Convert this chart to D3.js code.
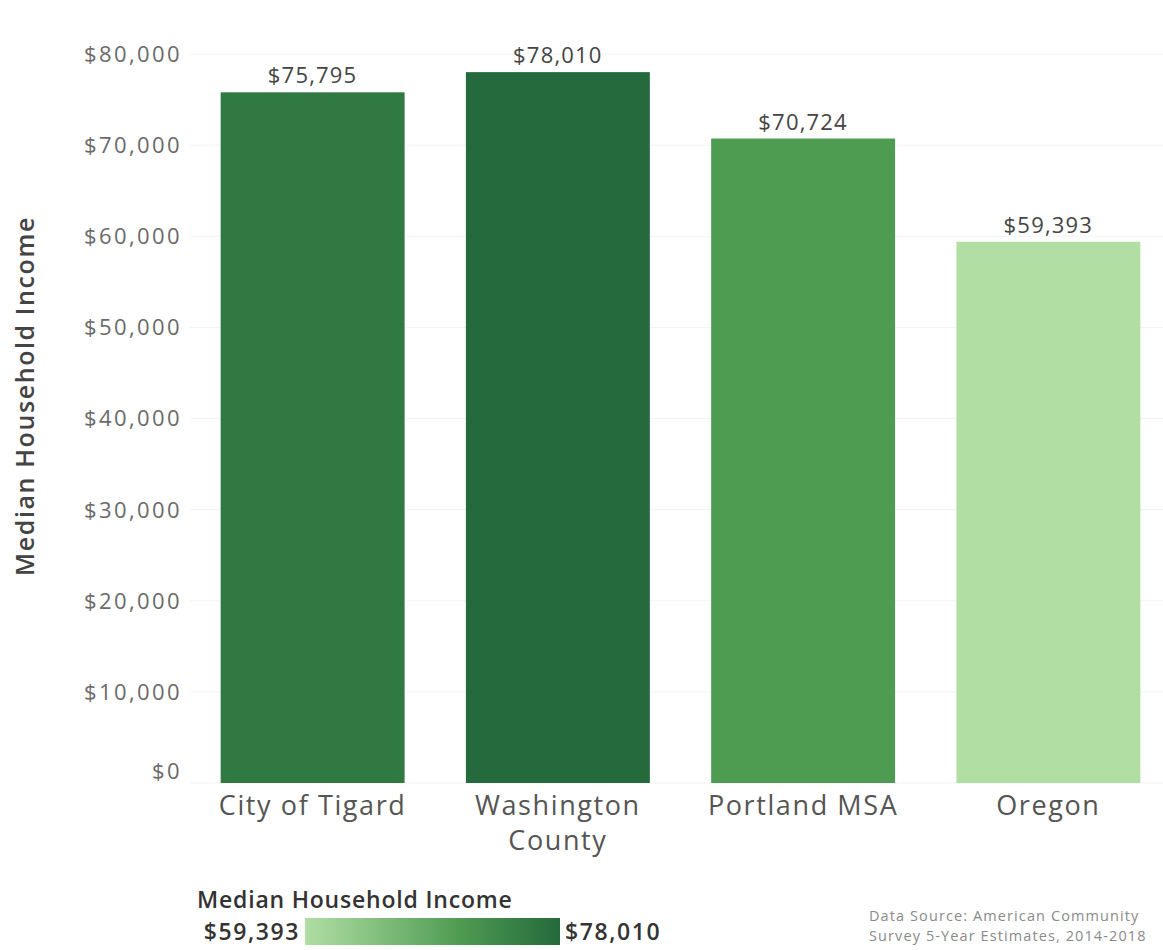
<!DOCTYPE html>
<html>
<head>
<meta charset="utf-8">
<script src="https://cdn.jsdelivr.net/npm/d3@7"></script>
<style>
  html, body { margin: 0; padding: 0; background: #ffffff; }
  svg { display: block; font-family: "Open Sans", "DejaVu Sans", sans-serif; }
</style>
</head>
<body>
<svg id="chart" width="1163" height="950"></svg>
<script>
// Median household income by geography (ACS 5-year, 2014-2018)
const categories = ["City of Tigard", "Washington County", "Portland MSA", "Oregon"];
const categoryLines = [["City of Tigard"], ["Washington", "County"], ["Portland MSA"], ["Oregon"]];
const incomes = [75795, 78010, 70724, 59393];
const yTicks = [0, 10000, 20000, 30000, 40000, 50000, 60000, 70000, 80000];
const colorStops = ["#b1dea3", "#4e9b52", "#246a3c"];

const svg = d3.select("#chart");
const fmt = d3.format("$,");

const lo = d3.min(incomes), hi = d3.max(incomes);
const color = d3.scaleLinear()
  .domain([lo, incomes[2], hi])
  .range(colorStops)
  .interpolate(d3.interpolateLab);

const x = d3.scaleBand()
  .domain(categories)
  .range([190, 1171])
  .paddingInner(0.25)
  .paddingOuter(0.125);

const y = d3.scaleLinear()
  .domain([0, 80000])
  .range([783, 54]);

// faint horizontal gridlines
svg.append("g")
  .selectAll("line")
  .data(yTicks)
  .join("line")
  .attr("x1", 190).attr("x2", 1163)
  .attr("y1", d => y(d)).attr("y2", d => y(d))
  .attr("stroke", "#f3f3f3")
  .attr("stroke-width", 1);

// y axis labels
const yAxis = d3.axisLeft(y).tickValues(yTicks).tickFormat(fmt).tickSize(0).tickPadding(0);
const gy = svg.append("g").attr("transform", "translate(182,0)").call(yAxis);
gy.select(".domain").remove();
gy.selectAll("text")
  .attr("fill", "#6a6a6a")
  .attr("font-size", 22)
  .attr("letter-spacing", 2.4)
  .attr("dy", d => d === 0 ? "-0.2em" : "0.34em")
  .attr("font-family", "'Open Sans', sans-serif");

// bars
svg.append("g")
  .selectAll("rect")
  .data(incomes)
  .join("rect")
  .attr("x", (d, i) => x(categories[i]))
  .attr("width", x.bandwidth())
  .attr("y", d => y(d))
  .attr("height", d => y(0) - y(d))
  .attr("fill", d => color(d));

// value labels above bars
svg.append("g")
  .selectAll("text")
  .data(incomes)
  .join("text")
  .attr("x", (d, i) => x(categories[i]) + x.bandwidth() / 2)
  .attr("y", d => y(d) - 9)
  .attr("text-anchor", "middle")
  .attr("fill", "#444")
  .attr("font-size", 22)
  .attr("letter-spacing", 1.2)
  .text(d => fmt(d));

// category labels
const xl = svg.append("g")
  .selectAll("text")
  .data(categories)
  .join("text")
  .attr("x", d => x(d) + x.bandwidth() / 2)
  .attr("y", 815)
  .attr("text-anchor", "middle")
  .attr("fill", "#555")
  .attr("font-size", 27)
  .attr("font-weight", 500)
  .attr("letter-spacing", 1.6);
xl.each(function(d, i) {
  d3.select(this).selectAll("tspan")
    .data(categoryLines[i])
    .join("tspan")
    .attr("x", x(d) + x.bandwidth() / 2)
    .attr("dy", (t, j) => j === 0 ? 0 : 35)
    .text(t => t);
});

// y axis title
svg.append("text")
  .attr("transform", "translate(34,396) rotate(-90)")
  .attr("text-anchor", "middle")
  .attr("fill", "#444")
  .attr("font-size", 25)
  .attr("font-weight", 600)
  .attr("letter-spacing", 1.6)
  .text("Median Household Income");

// colour legend
const defs = svg.append("defs");
const grad = defs.append("linearGradient").attr("id", "incomeGrad");
grad.selectAll("stop")
  .data(color.domain())
  .join("stop")
  .attr("offset", d => (d - lo) / (hi - lo))
  .attr("stop-color", d => color(d));

const legend = svg.append("g");
legend.append("text")
  .attr("x", 197).attr("y", 908)
  .attr("fill", "#333")
  .attr("font-size", 23)
  .attr("font-weight", 600)
  .attr("letter-spacing", 0.8)
  .text("Median Household Income");
legend.append("rect")
  .attr("x", 305).attr("y", 918)
  .attr("width", 255).attr("height", 27)
  .attr("fill", "url(#incomeGrad)");
legend.append("text")
  .attr("x", 300).attr("y", 940)
  .attr("text-anchor", "end")
  .attr("fill", "#333")
  .attr("font-size", 23)
  .attr("font-weight", 600)
  .attr("letter-spacing", 1.6)
  .text(fmt(lo));
legend.append("text")
  .attr("x", 565).attr("y", 940)
  .attr("fill", "#333")
  .attr("font-size", 23)
  .attr("font-weight", 600)
  .attr("letter-spacing", 1.6)
  .text(fmt(hi));

// source note
const note = svg.append("text")
  .attr("x", 869).attr("y", 921)
  .attr("fill", "#8a8a8a")
  .attr("font-size", 14.5)
  .attr("letter-spacing", 1.1);
note.append("tspan").attr("x", 869).attr("dy", 0).text("Data Source: American Community");
note.append("tspan").attr("x", 869).attr("dy", 20).text("Survey 5-Year Estimates, 2014-2018");
</script>
</body>
</html>
